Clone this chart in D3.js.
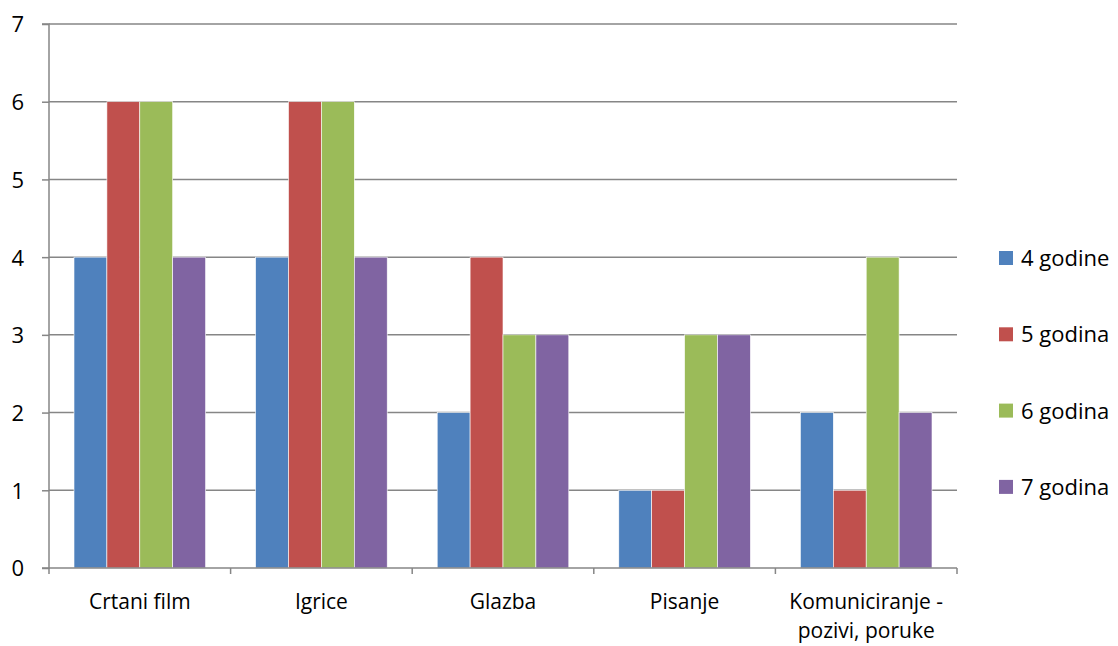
<!DOCTYPE html>
<html><head><meta charset="utf-8">
<script src="https://cdn.jsdelivr.net/npm/d3@7"></script>
<style>body{margin:0;background:#fff}svg{display:block}text{font-family:"Open Sans",sans-serif;fill:#000}</style>
</head><body><svg id="c" width="1118" height="646"></svg>
<script>
const categories = [["Crtani film"],["Igrice"],["Glazba"],["Pisanje"],["Komuniciranje -","pozivi, poruke"]];
const seriesNames = ["4 godine","5 godina","6 godina","7 godina"];
const colors = ["#4F81BD","#C0504D","#9BBB59","#8064A2"];
const values = [
  [4,4,2,1,2],
  [6,6,4,1,1],
  [6,6,3,3,4],
  [4,4,3,3,2]
];
const yTicks = [0,1,2,3,4,5,6,7];

const svg = d3.select("#c");
const L=49, R=957, T=24, B=568;
const x = d3.scaleBand().domain(d3.range(categories.length)).range([L,R]).paddingInner(0).paddingOuter(0);
const y = d3.scaleLinear().domain([0,7]).range([B,T]);
const inner = d3.scaleBand().domain(d3.range(seriesNames.length)).range([25, x.bandwidth()-25]);

// gridlines
svg.append("g").selectAll("line").data(yTicks.filter(d=>d>0)).join("line")
  .attr("x1",L).attr("x2",R).attr("y1",d=>y(d)).attr("y2",d=>y(d))
  .attr("stroke","#868686").attr("stroke-width",1.5);

// bars
seriesNames.forEach((s,si)=>{
  svg.append("g").selectAll("rect").data(values[si]).join("rect")
    .attr("x",(d,i)=>x(i)+inner(si))
    .attr("width",inner.bandwidth())
    .attr("y",d=>y(d)).attr("height",d=>B-y(d))
    .attr("fill",colors[si]).attr("stroke","#fff").attr("stroke-width",0.6);
});

// y axis
const ya = d3.axisLeft(y).tickValues(yTicks).tickFormat(d3.format("d")).tickSize(7).tickPadding(18);
const yg = svg.append("g").attr("transform",`translate(${L},0)`).call(ya);
yg.attr("font-family",null).attr("font-size",null);
yg.select(".domain").attr("stroke","#868686").attr("stroke-width",1.5).attr("d",`M-7,${T}H0V${B}H-7`);
yg.selectAll(".tick line").attr("stroke","#868686").attr("stroke-width",1.5);
yg.selectAll(".tick text").style("font-size","22px").attr("dy","0.36em");

// x axis
svg.append("line").attr("x1",L).attr("x2",R).attr("y1",B).attr("y2",B).attr("stroke","#868686").attr("stroke-width",1.5);
svg.append("g").selectAll("line").data(d3.range(categories.length+1)).join("line")
  .attr("x1",i=>L+i*x.bandwidth()).attr("x2",i=>L+i*x.bandwidth())
  .attr("y1",B).attr("y2",B+6).attr("stroke","#868686").attr("stroke-width",1.5);
const xl = svg.append("g").selectAll("text").data(categories).join("text")
  .attr("x",(d,i)=>x(i)+x.bandwidth()/2).attr("y",609)
  .attr("text-anchor","middle").style("font-size","21px");
xl.each(function(d){
  const t=d3.select(this);
  d.forEach((line,k)=>t.append("tspan").attr("x",t.attr("x")).attr("dy",k?29:0).text(line));
});

// legend
const lg = svg.append("g").selectAll("g").data(seriesNames).join("g")
  .attr("transform",(d,i)=>`translate(999,${251+i*76.3})`);
lg.append("rect").attr("width",14).attr("height",14).attr("fill",(d,i)=>colors[i]);
lg.append("text").attr("x",22).attr("y",7).attr("dy","0.36em").style("font-size","22px").text(d=>d);
</script></body></html>
